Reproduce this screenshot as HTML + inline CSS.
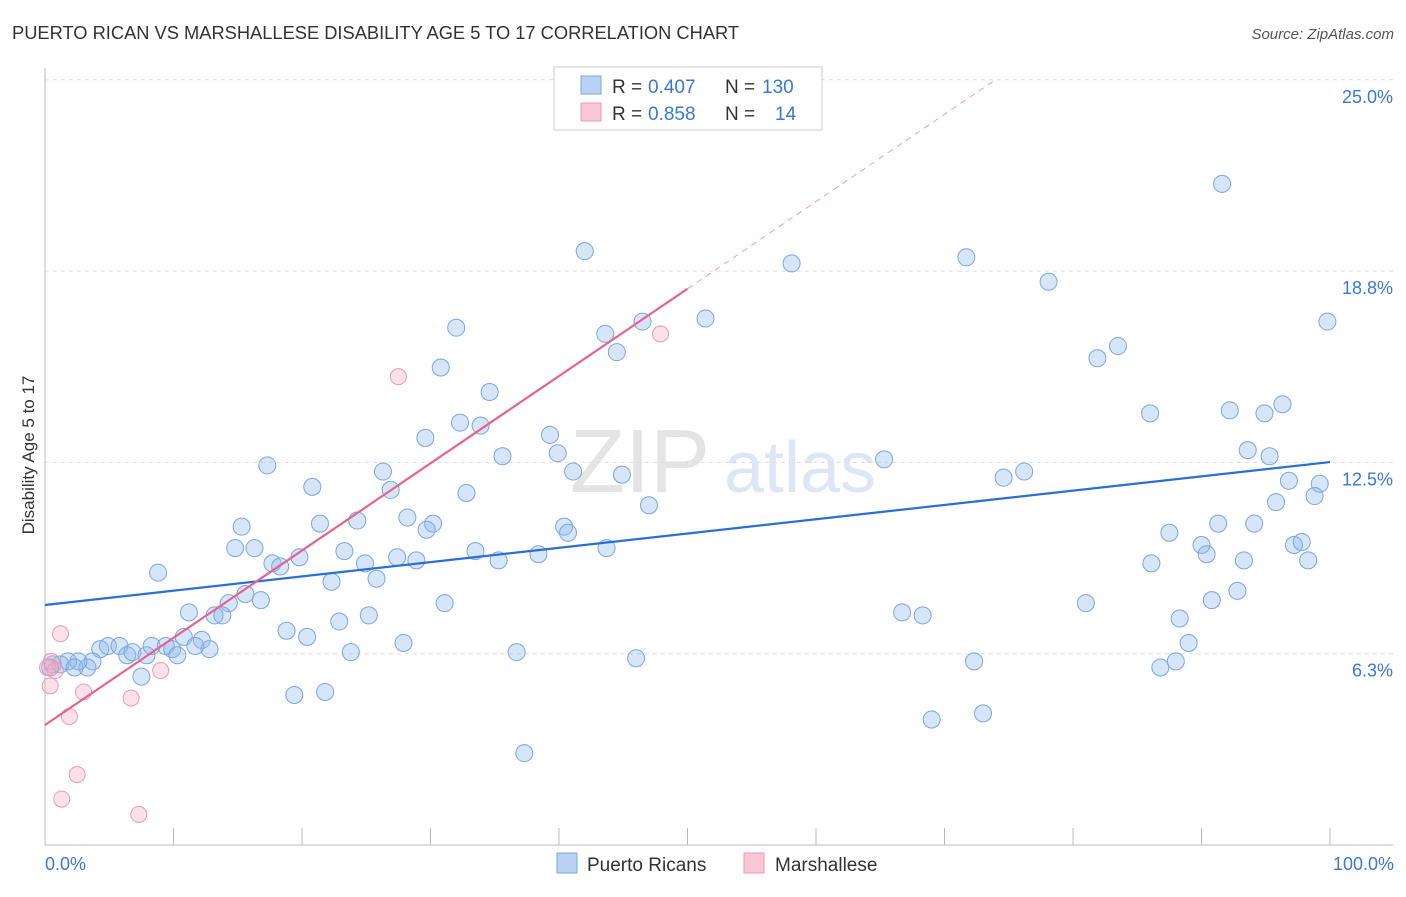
<!DOCTYPE html>
<html><head><meta charset="utf-8"><style>
body{margin:0;background:#fff;font-family:"Liberation Sans",sans-serif}
svg text{font-family:"Liberation Sans",sans-serif}
</style></head><body>
<svg width="1406" height="892" xmlns="http://www.w3.org/2000/svg">
<text x="12" y="39" font-size="18.3" fill="#333">PUERTO RICAN VS MARSHALLESE DISABILITY AGE 5 TO 17 CORRELATION CHART</text>
<text x="1394" y="39" font-size="15" fill="#555" font-style="italic" text-anchor="end">Source: ZipAtlas.com</text>
<text x="640" y="492" font-size="90" fill="#e4e4e4" font-family="Liberation Serif" text-anchor="middle">ZIP</text>
<text x="800" y="492" font-size="72" fill="#dde6f4" text-anchor="middle">atlas</text>
<g id="grid"></g>
<g id="axes"></g>
<text transform="translate(34,455) rotate(-90)" font-size="17" fill="#333" text-anchor="middle">Disability Age 5 to 17</text>
<text x="45" y="870" font-size="18" fill="#3a78d4">0.0%</text>
<text x="1394" y="870" font-size="18" fill="#3a78d4" text-anchor="end">100.0%</text>
<g id="pts"></g>
<g id="lines"></g>
<g>
<rect x="554" y="67" width="268" height="63" fill="#fff" stroke="#ccc"/>
<rect x="581" y="76" width="20" height="18" fill="#b9d2f4" stroke="#7aa7e0"/>
<rect x="581" y="103" width="20" height="18" fill="#f8c6d4" stroke="#ec9ab3"/>
<text x="612" y="93" font-size="19" fill="#333">R =</text>
<text x="648" y="93" font-size="19" fill="#3a78d4">0.407</text>
<text x="725" y="93" font-size="19" fill="#333">N =</text>
<text x="762" y="93" font-size="19" fill="#3a78d4">130</text>
<text x="612" y="120" font-size="19" fill="#333">R =</text>
<text x="648" y="120" font-size="19" fill="#3a78d4">0.858</text>
<text x="725" y="120" font-size="19" fill="#333">N =</text>
<text x="775" y="120" font-size="19" fill="#3a78d4">14</text>
</g>
<g>
<rect x="557" y="853" width="20" height="20" fill="#b9d2f4" stroke="#7aa7e0"/>
<text x="587" y="871" font-size="19" fill="#333">Puerto Ricans</text>
<rect x="744" y="853" width="20" height="20" fill="#f8c6d4" stroke="#ec9ab3"/>
<text x="775" y="871" font-size="19" fill="#333">Marshallese</text>
</g>
</svg>
<script>
const yTicks=[6.25,12.5,18.75,25];
const yTickLabels=["6.3%","12.5%","18.8%","25.0%"];
const xTicks=[0,10,20,30,40,50,60,70,80,90,100];
const blueX=[42.0,58.1,71.7,91.6,78.1,99.8,51.4,46.5,43.6,44.5,32.0,30.8,34.6,83.5,81.9,86.0,92.2,94.9,96.3,32.3,33.9,29.6,39.3,39.9,35.6,41.1,44.9,65.3,93.6,95.3,74.6,76.2,96.8,99.2,98.8,95.8,17.3,20.8,26.3,26.9,32.8,47.0,21.4,24.3,28.2,30.2,29.7,40.4,40.7,91.3,94.1,87.5,15.3,14.8,16.3,19.8,23.3,24.9,27.4,28.9,33.5,35.3,38.4,43.7,90.0,90.4,97.2,97.8,98.3,93.3,86.1,17.7,18.3,8.8,22.3,25.8,15.6,16.8,14.3,11.2,13.2,13.8,31.1,25.2,22.9,18.8,20.4,10.8,12.2,27.9,23.8,36.7,46.0,66.7,68.3,81.0,90.8,92.8,88.3,89.0,88.0,86.8,72.3,69.0,73.0,37.3,19.4,21.8,7.5,4.3,4.9,5.8,6.4,6.8,7.9,8.3,9.4,9.9,10.3,12.8,11.7,3.7,3.3,2.6,1.8,1.2,0.6,0.4,2.3];
const blueY=[19.4,19.0,19.2,21.6,18.4,17.1,17.2,17.1,16.7,16.1,16.9,15.6,14.8,16.3,15.9,14.1,14.2,14.1,14.4,13.8,13.7,13.3,13.4,12.8,12.7,12.2,12.1,12.6,12.9,12.7,12.0,12.2,11.9,11.8,11.4,11.2,12.4,11.7,12.2,11.6,11.5,11.1,10.5,10.6,10.7,10.5,10.3,10.4,10.2,10.5,10.5,10.2,10.4,9.7,9.7,9.4,9.6,9.2,9.4,9.3,9.6,9.3,9.5,9.7,9.8,9.5,9.8,9.9,9.3,9.3,9.2,9.2,9.1,8.9,8.6,8.7,8.2,8.0,7.9,7.6,7.5,7.5,7.9,7.5,7.3,7.0,6.8,6.8,6.7,6.6,6.3,6.3,6.1,7.6,7.5,7.9,8.0,8.3,7.4,6.6,6.0,5.8,6.0,4.1,4.3,3.0,4.9,5.0,5.5,6.4,6.5,6.5,6.2,6.3,6.2,6.5,6.5,6.4,6.2,6.4,6.5,6.0,5.8,6.0,6.0,5.9,5.9,5.8,5.8];
const pinkX=[27.5,47.9,1.2,0.5,0.4,3.0,9.0,6.7,1.9,2.5,1.3,7.3,0.2,0.8];
const pinkY=[15.3,16.7,6.9,6.0,5.2,5.0,5.7,4.8,4.2,2.3,1.5,1.0,5.8,5.7];
const blueTrend=[7.84,12.51];
const pinkTrend=[3.92,0.285];
const NS="http://www.w3.org/2000/svg";
const X=v=>45+v*12.85, Y=v=>845-v*30.61;
function mk(tag,attrs,parent){const e=document.createElementNS(NS,tag);for(const k in attrs)e.setAttribute(k,attrs[k]);document.getElementById(parent).appendChild(e);return e;}
yTicks.forEach((t,i)=>{
 const l=mk('line',{x1:45,x2:1393,y1:Y(t),y2:Y(t),stroke:'#ddd','stroke-dasharray':'4,4'},'grid');
 
 
 const tx=mk('text',{x:1393,y:Y(t)+23,'font-size':18,fill:'#3a78d4','text-anchor':'end'},'grid');
 tx.textContent=yTickLabels[i];
 
 
});
const ax=mk('line',{x1:45,x2:1393,y1:845,y2:845,stroke:'#bbb'},'axes');


const ay=mk('line',{x1:45,x2:45,y1:68,y2:845,stroke:'#bbb'},'axes');


xTicks.forEach(t=>{
 const l=mk('line',{x1:X(t),x2:X(t),y1:828,y2:845,stroke:'#bbb'},'axes');
 
 
});
blueX.forEach((x,i)=>{
 const c=mk('circle',{cx:X(x),cy:Y(blueY[i]),r:8.5,fill:'rgba(140,180,235,0.35)',stroke:'#7aa7e0','stroke-width':1},'pts');
 
 
});
pinkX.forEach((x,i)=>{
 const c=mk('circle',{cx:X(x),cy:Y(pinkY[i]),r:8,fill:'rgba(245,170,195,0.35)',stroke:'#ec9ab3','stroke-width':1},'pts');
 
 
});
const bl=mk('line',{x1:X(0),y1:Y(blueTrend[0]),x2:X(100),y2:Y(blueTrend[1]),stroke:'#2a6fd6','stroke-width':2.2},'lines');


const pl=mk('line',{x1:X(0),y1:Y(pinkTrend[0]),x2:X(50),y2:Y(pinkTrend[0]+pinkTrend[1]*50),stroke:'#e8628f','stroke-width':2.2},'lines');


const xe=(25-pinkTrend[0])/pinkTrend[1];
const pd=mk('line',{x1:X(50),y1:Y(pinkTrend[0]+pinkTrend[1]*50),x2:X(xe),y2:Y(25),stroke:'#eaa0b8','stroke-width':1,'stroke-dasharray':'6,5'},'lines');


</script>
</body></html>
